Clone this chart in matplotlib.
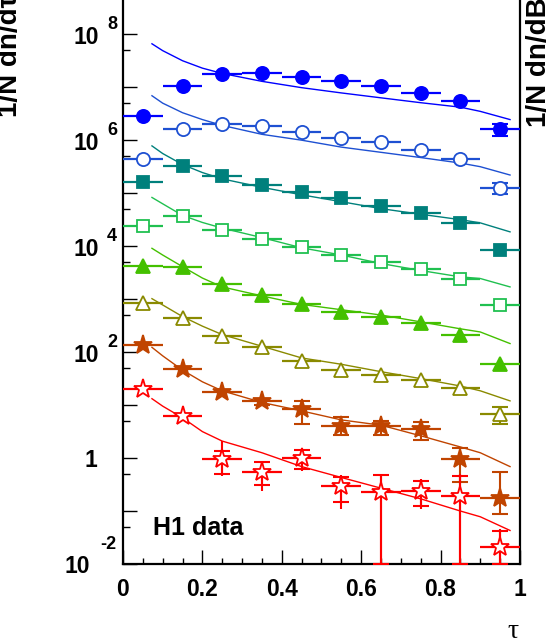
import matplotlib
matplotlib.use('Agg')
import matplotlib.pyplot as plt
import numpy as np
from matplotlib.ticker import FixedLocator, NullFormatter
from matplotlib.transforms import offset_copy

plt.rcParams['font.family'] = ['Liberation Sans', 'DejaVu Sans']
plt.rcParams['font.weight'] = 'bold'

# bin centres in tau and half bin width
tau = [0.05, 0.15, 0.25, 0.35, 0.45, 0.55, 0.65, 0.75, 0.85, 0.95]
half_bin = 0.05

# H1 data, eight samples scaled by powers of ten (top to bottom)
data_1 = [2.9e6, 1.07e7, 1.78e7, 1.86e7, 1.55e7, 1.32e7, 1.07e7, 7.9e6, 5.4e6, 1.6e6]
data_2 = [4.4e5, 1.62e6, 2.0e6, 1.82e6, 1.41e6, 1.10e6, 9.1e5, 6.6e5, 4.4e5, 1.23e5]
data_3 = [1.66e5, 3.24e5, 2.14e5, 1.41e5, 1.07e5, 8.1e4, 5.75e4, 4.27e4, 2.75e4, 8.3e3]
data_4 = [2.37e4, 3.63e4, 2.04e4, 1.38e4, 9.5e3, 6.9e3, 5.0e3, 3.72e3, 2.45e3, 760]
data_5 = [4170, 3980, 1905, 1175, 813, 575, 457, 347, 209, 60]
data_6 = [851, 447, 200, 123, 67.6, 46.8, 36.3, 29.5, 21.4, 6.8]
data_7 = [135, 49, 17.8, 11.7, 8.3, 4.07, 4.07, 3.47, 0.95, 0.18]
data_8 = [20, 6.2, 0.95, 0.55, 1.02, 0.30, 0.224, 0.24, 0.195, 0.0214]

# uncertainties: (lower, upper); stat marked by ticks, total drawn as the full line
err_1 = ([0, 0, 0, 0, 0, 0, 0, 0, 0, 0.42e6], [0, 0, 0, 0, 0, 0, 0, 0, 0, 0.42e6])
err_2 = ([0, 0, 0, 0, 0, 0, 0, 0, 0, 0.25e5], [0, 0, 0, 0, 0, 0, 0, 0, 0, 0.3e5])
err_6 = ([0, 0, 0, 0, 0, 0, 0, 0, 0, 2.5], [0, 0, 0, 0, 0, 0, 0, 0, 0, 2.5])
err_7 = ([0, 0, 0, 1.5, 3.9, 1.3, 1.4, 1.3, 0.6, 0.093],
         [0, 0, 0, 1.5, 3.9, 1.8, 1.0, 1.3, 0.63, 0.36])
stat_8 = ([0, 0, 0.45, 0.24, 0.40, 0.15, 0.224, 0.114, 0.195, 0.0214],
          [0, 0, 0.41, 0.28, 0.39, 0.13, 0.26, 0.13, 0.26, 0.021])
tot_8 = ([0, 0, 0.49, 0.31, 0.45, 0.19, 0.224, 0.13, 0.195, 0.0214],
         [0, 0, 1.14, 0.34, 0.46, 0.18, 0.28, 0.16, 0.30, 0.024])

# model predictions
model_tau = [0.073, 0.1, 0.15, 0.2, 0.25, 0.35, 0.45, 0.55, 0.65, 0.75, 0.85, 0.9, 0.975]
model_1 = [6.6e7, 4.9e7, 3.16e7, 2.29e7, 1.82e7, 1.29e7, 9.8e6, 7.8e6, 6.3e6, 5.1e6, 4.2e6, 3.5e6, 2.45e6]
model_2 = [6.9e6, 5.0e6, 3.3e6, 2.45e6, 1.9e6, 1.29e6, 1.0e6, 7.4e5, 5.9e5, 4.7e5, 3.7e5, 3.16e5, 2.2e5]
model_3 = [7.8e5, 5.6e5, 3.47e5, 2.45e5, 1.86e5, 1.29e5, 9.3e4, 6.9e4, 5.1e4, 4.0e4, 3.16e4, 2.75e4, 1.86e4]
model_4 = [8.3e4, 6.3e4, 3.8e4, 2.8e4, 2.19e4, 1.45e4, 9.3e3, 6.8e3, 4.7e3, 3.47e3, 2.63e3, 2.45e3, 1.7e3]
model_5 = [9.1e3, 6.8e3, 4.1e3, 2.5e3, 1.7e3, 1.15e3, 794, 631, 501, 372, 275, 240, 145]
model_6 = [1020, 776, 468, 309, 214, 129, 77.6, 58.9, 42.7, 31.6, 22.9, 18.6, 12.0]
model_7 = [123, 85, 45.7, 27.5, 18.6, 11.2, 7.76, 5.25, 4.17, 2.63, 1.62, 1.26, 0.69]
model_8 = [13.2, 9.55, 5.75, 3.16, 2.09, 1.26, 0.69, 0.43, 0.27, 0.17, 0.10, 0.078, 0.043]

colors = ['#0000ff', '#1e50d2', '#00807c', '#20c050', '#44c000', '#8a8a00', '#c04400', '#ff0000']

y_low, y_high = 1e-2, 10 ** 8.646

fig = plt.figure(figsize=(5.49, 6.44), dpi=100)
ax = fig.add_axes([0.2240, 0.1242, 0.7231, 0.8758])
ax.set_yscale('log')
ax.set_xlim(0, 1)
ax.set_ylim(y_low, y_high)


def draw_errors(vals, lo, hi, color, caps):
    idx = [i for i in range(len(vals)) if lo[i] > 0 or hi[i] > 0]
    if not idx:
        return
    x = [tau[i] for i in idx]
    y = np.array([vals[i] for i in idx])
    low = np.array([lo[i] for i in idx])
    low = y - np.maximum(y - low, y_low * 1.005)
    up = np.array([hi[i] for i in idx])
    ax.errorbar(x, y, yerr=[low, up], fmt='none', ecolor=color, elinewidth=1.5,
                capsize=6 if caps else 0, capthick=1.5, zorder=3)


def draw_series(vals, model, color, marker, filled, ms, stat=None, total=None):
    ax.plot(model_tau, model, color=color, lw=1.0, zorder=2)
    ax.errorbar(tau, vals, xerr=half_bin, fmt='none', ecolor=color, elinewidth=1.6, zorder=3)
    if total is not None:
        draw_errors(vals, total[0], total[1], color, False)
    if stat is not None:
        draw_errors(vals, stat[0], stat[1], color, True)
    ax.plot(tau, vals, ls='none', marker=marker, ms=ms,
            mfc=color if filled else 'white', mec=color, mew=1.3, zorder=5)


draw_series(data_1, model_1, colors[0], 'o', True, 9.5, stat=err_1)
draw_series(data_2, model_2, colors[1], 'o', False, 9.5, stat=err_2)
draw_series(data_3, model_3, colors[2], 's', True, 9.0)
draw_series(data_4, model_4, colors[3], 's', False, 9.0)
draw_series(data_5, model_5, colors[4], '^', True, 9.5)
draw_series(data_6, model_6, colors[5], '^', False, 9.5, stat=err_6)
draw_series(data_7, model_7, colors[6], '*', True, 14, stat=err_7)
draw_series(data_8, model_8, colors[7], '*', False, 14, stat=stat_8, total=tot_8)

# axes styling
for side in ['left', 'right', 'bottom']:
    ax.spines[side].set_linewidth(1.6)
ax.spines['top'].set_visible(False)

ax.xaxis.set_major_locator(FixedLocator([0, 0.2, 0.4, 0.6, 0.8, 1.0]))
ax.xaxis.set_minor_locator(FixedLocator(np.arange(0, 1.0001, 0.05)))
ax.set_xticklabels(['0', '0.2', '0.4', '0.6', '0.8', '1'])
ax.tick_params(axis='x', which='major', direction='in', length=10, width=1.0,
               labelsize=16.5, pad=10, top=False)
ax.tick_params(axis='x', which='minor', direction='in', length=4.5, width=1.0, top=False)

exps = list(range(-2, 9))
ax.yaxis.set_major_locator(FixedLocator([10.0 ** e for e in exps]))
ax.yaxis.set_minor_locator(FixedLocator([5 * 10.0 ** e for e in exps]))
ax.yaxis.set_major_formatter(NullFormatter())
ax.yaxis.set_minor_formatter(NullFormatter())
ax.tick_params(axis='y', which='major', direction='in', length=10, width=1.0, right=False)
ax.tick_params(axis='y', which='minor', direction='in', length=5, width=1.0, right=False)

# ROOT-style power-of-ten labels
base = ax.get_yaxis_transform()
label_exps = [8, 6, 4, 2]
for e in label_exps:
    ax.text(-24 / 397, 10.0 ** e, '10', fontsize=16.5, ha='right', va='center',
            transform=offset_copy(base, fig=fig, x=0, y=-3, units='dots'))
    ax.text(-16 / 397, 10.0 ** e, str(e), fontsize=13, ha='left', va='center',
            transform=offset_copy(base, fig=fig, x=0, y=10, units='dots'))
ax.text(-26 / 397, 1.0, '1', fontsize=16.5, ha='right', va='center',
        transform=offset_copy(base, fig=fig, x=0, y=-2, units='dots'))
ax.text(-23 / 397, 1e-2, '-2', fontsize=13, ha='left', va='center',
        transform=offset_copy(base, fig=fig, x=0, y=20, units='dots'))
ax.text(-33 / 397, 1e-2, '10', fontsize=16.5, ha='right', va='center',
        transform=offset_copy(base, fig=fig, x=0, y=-2, units='dots'))

ax.text(0.076, 0.051, 'H1 data', transform=ax.transAxes, fontsize=18,
        ha='left', va='baseline')

fig.text(16.5 / 549, 1 - 117 / 644, '1/N dn/d\u03c4', rotation=90, rotation_mode='anchor',
         ha='left', va='baseline', fontsize=20)
fig.text(546 / 549, 1 - 127 / 644, '1/N dn/dB', rotation=90, rotation_mode='anchor',
         ha='left', va='baseline', fontsize=20)
fig.text(513 / 549, 1 - 632 / 644, '\u03c4', family='Liberation Serif', weight='normal',
         fontsize=20, ha='center', va='center')

fig.savefig('out.png', dpi=100)
